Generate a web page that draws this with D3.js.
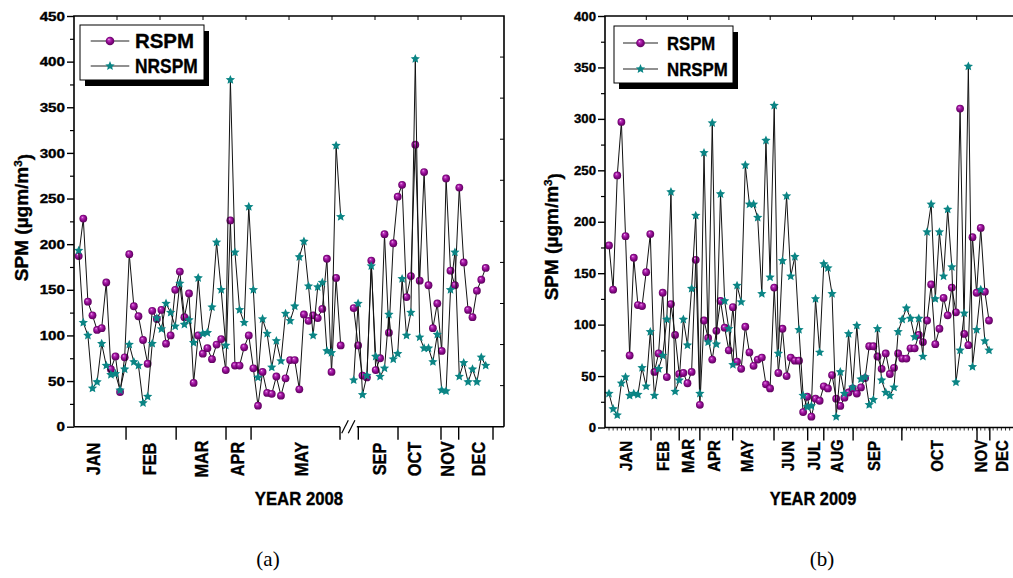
<!DOCTYPE html>
<html><head><meta charset="utf-8">
<script src="https://cdn.jsdelivr.net/npm/d3@7"></script>
<style>
html,body{margin:0;padding:0;background:#fff;}
svg{display:block;}
text{font-family:"Liberation Sans",Arial,sans-serif;font-weight:bold;fill:#000;stroke:#000;stroke-width:0.35px;}
</style></head><body>
<svg id="chart" width="1013" height="578"></svg>
<script>
// ---------------- DATA ----------------
// Panel (a) 2008, Jan–May samples
const rspm2008JanMay = [187,228,137,122,106,108,158,63,77,38,76,189,132,121,95,69,127,118,128,91,100,150,170,120,146,48,100,80,86,74,90,96,62,226,67,67,87,100,64,23,60,37,36,55,34,53,73,73,41,123,116,122,119,129,184,60,163,89];
const nrspm2008JanMay = [193,114,100,42,49,91,67,57,58,40,63,90,71,67,26,33,91,119,107,135,125,110,157,112,117,92,163,102,103,131,202,150,89,380,191,128,114,241,150,54,118,102,65,94,72,124,116,132,186,203,154,100,153,158,83,81,308,230];
// Panel (a) 2008, Sep–Dec samples
const rspm2008SepDec = [130,89,56,54,182,62,75,211,103,201,252,265,142,165,309,160,279,155,108,135,83,272,171,155,262,180,128,120,149,161,174];
const nrspm2008SepDec = [51,135,35,56,176,77,55,64,123,74,80,162,100,125,403,98,86,86,71,101,40,39,150,191,55,70,49,63,49,76,67];
// Panel (b) 2009 samples
const rspm2009 = [177,134,245,297,186,70,165,119,118,151,188,54,72,131,49,120,90,52,53,43,54,163,22,104,87,66,94,123,97,75,117,64,57,98,73,60,66,68,42,38,136,53,96,50,68,65,65,15,30,10.5,28,26,40,38,51,28,21,29,34,38,33,39,48,79,79,69,57,72,52,58,72,67,67,77,77,90,83,104,139,81,96,126,109,136,112,310,91,80,185,131,194,132,104];
const nrspm2009 = [33,18,12,43,49,31,33,32,58,40,93,31,57,70,105,229,35,46,105,80,135,206,33,267,83,296,81,227,123,96,61,138,122,255,217,217,204,130,279,146,313,72,162,225,147,166,95,31,20,21,125,73,159,155,130,10.5,54,33,91,39,99,47,49,22,27,96,46,34,31,39,93,105,116,106,88,106,69,190,217,125,190,147,212,156,44,75,111,351,59,95,134,84,75];

// month labels and their position in sample-index units
const months2008JanMay = ["JAN","FEB","MAR","APR","MAY"];
const monthPos2008JanMay = [3.2,15.5,26.8,34.6,48.5];
const monthBounds2008JanMay = [10.3,21.2,32.05,37.5,56.85];
const months2008SepDec = ["SEP","OCT","NOV","DEC"];
const monthPos2008SepDec = [6.0,13.93,21.4,28.4];
const monthBounds2008SepDec = [1.05,10.07,19.84,23.86,31.66];
const months2009 = ["JAN","FEB","MAR","APR","MAY","JUN","JUL","AUG","SEP","OCT","NOV","DEC"];
const monthPos2009 = [4.16,13.15,19.13,25.42,33.35,43.42,49.56,55.13,64.09,79.36,90.07,95.16];
const monthBounds2009 = [10.17,17.0,22.0,29.95,39.95,48.1,52.0,59.1,70.9,89.1,92.2];

const yTicks2008 = [0,50,100,150,200,250,300,350,400,450];
const yTicks2009 = [0,50,100,150,200,250,300,350,400];
const seriesNames = ["RSPM","NRSPM"];

// ---------------- DRAWING ----------------
const svg = d3.select("#chart");
const defs = svg.append("defs");
const grad = defs.append("radialGradient").attr("id","sphere")
  .attr("cx","50%").attr("cy","50%").attr("r","55%").attr("fx","36%").attr("fy","30%");
grad.selectAll("stop").data([[0,"#f4d4f4"],[0.2,"#c23cc2"],[0.55,"#900a90"],[1,"#540054"]])
  .join("stop").attr("offset",d=>d[0]).attr("stop-color",d=>d[1]);

const TEAL = "#0b8585";
function starD(ro, ri){
  const pts = d3.range(10).map(k=>{
    const a = -Math.PI/2 + k*Math.PI/5, r = k%2 ? ri : ro;
    return [r*Math.cos(a), r*Math.sin(a)];
  });
  return d3.line()(pts) + "Z";
}
const starPath = starD(4.9, 2.3);

function fit(sel, factor){
  sel.each(function(){
    const L = this.getComputedTextLength();
    this.setAttribute("textLength", (L*factor).toFixed(2));
    this.setAttribute("lengthAdjust","spacingAndGlyphs");
  });
  return sel;
}

function drawSeries(g, xs, y, vals, kind){
  const line = d3.line().x((d,i)=>xs(i)).y(d=>y(d));
  g.append("path").attr("d", line(vals)).attr("fill","none")
    .attr("stroke","#111").attr("stroke-width",1).attr("stroke-linejoin","round");
  if(kind==="R"){
    g.append("g").selectAll("circle").data(vals).join("circle")
      .attr("cx",(d,i)=>xs(i)).attr("cy",d=>y(d)).attr("r",3.9)
      .attr("fill","url(#sphere)");
  } else {
    g.append("g").selectAll("path").data(vals).join("path")
      .attr("d",starPath).attr("transform",(d,i)=>`translate(${xs(i)},${y(d)})`)
      .attr("fill",TEAL);
  }
}

function legend(g, x0, y0, w, h, rowY, lineX1, lineX2, textX, fs, widths){
  g.append("rect").attr("x",x0+5).attr("y",y0+6).attr("width",w).attr("height",h).attr("fill","#000");
  g.append("rect").attr("x",x0).attr("y",y0).attr("width",w).attr("height",h)
    .attr("fill","#fff").attr("stroke","#000").attr("stroke-width",1);
  seriesNames.forEach((name,k)=>{
    const yy = rowY[k];
    g.append("line").attr("x1",lineX1).attr("x2",lineX2).attr("y1",yy).attr("y2",yy)
      .attr("stroke","#222").attr("stroke-width",1.2);
    const mx = (lineX1+lineX2)/2;
    if(k===0) g.append("circle").attr("cx",mx).attr("cy",yy).attr("r",4.3).attr("fill","url(#sphere)");
    else g.append("path").attr("d",starPath).attr("transform",`translate(${mx},${yy})`).attr("fill",TEAL);
    g.append("text").attr("x",textX).attr("y",yy).attr("dy","0.36em")
      .attr("font-size",fs).attr("textLength",widths[k]).attr("lengthAdjust","spacingAndGlyphs").text(name);
  });
}

function yTitle(g, cx, cy, fs){
  const t = g.append("text").attr("transform",`translate(${cx},${cy}) rotate(-90)`)
    .attr("text-anchor","middle").attr("dy","0.35em").attr("font-size",fs);
  t.append("tspan").text("SPM (\u00B5gm/m");
  t.append("tspan").attr("dy","-0.45em").attr("font-size",fs*0.62).text("3");
  t.append("tspan").attr("dy","0.45em").text(")");
}

// ======= Panel (a) =======
(function(){
  const L=74, R=504, T=16, B=426.7;
  const g = svg.append("g");
  const y = d3.scaleLinear().domain([0,450]).range([B,T]);
  const x1 = d3.scaleLinear().domain([0,57]).range([78.7,340.7]);
  const x2 = d3.scaleLinear().domain([0,30]).range([353.7,485.7]);

  drawSeries(g, x1, y, rspm2008JanMay, "R");
  drawSeries(g, x2, y, rspm2008SepDec, "R");
  drawSeries(g, x1, y, nrspm2008JanMay, "N");
  drawSeries(g, x2, y, nrspm2008SepDec, "N");

  const ax = g.append("g").attr("stroke","#000").attr("fill","none");
  ax.append("path").attr("d",`M${L},${B}V${T}H${R}V${B}`).attr("stroke-width",1.6);
  ax.append("line").attr("x1",L).attr("x2",x1(56.85)).attr("y1",B).attr("y2",B).attr("stroke-width",1.6);
  ax.append("line").attr("x1",x2(1.05)-1.5).attr("x2",R).attr("y1",B).attr("y2",B).attr("stroke-width",1.6);
  [0,6.6].forEach(o=>{
    ax.append("line").attr("x1",341.7+o).attr("y1",B+6.5).attr("x2",348.3+o).attr("y2",B-6.5).attr("stroke-width",1.2);
  });
  const fx = d3.scaleLinear().domain([0,10]).range([L,R]);
  const fy = d3.scaleLinear().domain([0,10]).range([T,B]);
  d3.range(1,10).forEach(k=>{
    ax.append("line").attr("x1",fx(k)).attr("x2",fx(k)).attr("y1",T).attr("y2",T+4).attr("stroke-width",1);
    ax.append("line").attr("y1",fy(k)).attr("y2",fy(k)).attr("x1",R).attr("x2",R-4).attr("stroke-width",1);
  });
  const yAx = g.append("g").attr("transform",`translate(${L},0)`)
    .call(d3.axisLeft(y).tickValues(yTicks2008).tickSize(7).tickPadding(2));
  yAx.select(".domain").remove();
  yAx.selectAll("line").attr("stroke","#000").attr("stroke-width",1.4);
  yAx.selectAll("text").attr("font-size",13).attr("font-family",null).attr("fill","#000")
    .each(function(){ fit(d3.select(this), 1.17); });
  const yMinor = g.append("g").attr("transform",`translate(${L},0)`)
    .call(d3.axisLeft(y).tickValues(d3.range(25,450,50)).tickSize(4).tickFormat(""));
  yMinor.select(".domain").remove();
  yMinor.selectAll("line").attr("stroke","#000").attr("stroke-width",1.2);
  monthBounds2008JanMay.forEach(v=>{
    ax.append("line").attr("x1",x1(v)).attr("x2",x1(v)).attr("y1",B).attr("y2",B+13).attr("stroke-width",1.4);
  });
  monthBounds2008SepDec.forEach(v=>{
    ax.append("line").attr("x1",x2(v)).attr("x2",x2(v)).attr("y1",B).attr("y2",B+13).attr("stroke-width",1.4);
  });
  const mlab = (xs, names, pos) => names.forEach((m,i)=>{
    fit(g.append("text").attr("transform",`translate(${xs(pos[i])},459) rotate(-90)`)
      .attr("text-anchor","middle").attr("dy","0.35em").attr("font-size",17.5).text(m), 0.93);
  });
  mlab(x1, months2008JanMay, monthPos2008JanMay);
  mlab(x2, months2008SepDec, monthPos2008SepDec);
  fit(g.append("text").attr("x",299).attr("y",505).attr("text-anchor","middle").attr("font-size",18).text("YEAR 2008"),0.93);
  yTitle(g, 21, 217.5, 19);
  legend(g, 80, 25, 124, 55, [41,66], 90.7, 129.3, 135, 20, [59,62.7]);
  svg.append("text").attr("x",268).attr("y",566).attr("text-anchor","middle")
    .style("font-family","'Liberation Serif','Times New Roman',serif").style("font-weight","normal").style("stroke","none")
    .attr("font-size",21).text("(a)");
})();

// ======= Panel (b) =======
(function(){
  const L=605, R=1018, T=16, B=427.5;
  const g = svg.append("g");
  const y = d3.scaleLinear().domain([0,400]).range([B,T]);
  const x = d3.scaleLinear().domain([0,92]).range([609,989]);

  drawSeries(g, x, y, rspm2009, "R");
  drawSeries(g, x, y, nrspm2009, "N");

  const ax = g.append("g").attr("stroke","#000").attr("fill","none");
  ax.append("path").attr("d",`M${R},${B}H${L}V${T}H${R}V${B}`).attr("stroke-width",1.6);
  const fx = d3.scaleLinear().domain([0,10]).range([L,R]);
  d3.range(1,10).forEach(k=>{
    ax.append("line").attr("x1",fx(k)).attr("x2",fx(k)).attr("y1",T).attr("y2",T+4).attr("stroke-width",1);
  });
  d3.range(0,100).forEach(i=>{
    const xx = x(i);
    if(xx>L && xx<R) ax.append("line").attr("x1",xx).attr("x2",xx).attr("y1",B).attr("y2",B+3).attr("stroke-width",0.8);
  });
  monthBounds2009.forEach(v=>{
    ax.append("line").attr("x1",x(v)).attr("x2",x(v)).attr("y1",B).attr("y2",B+13).attr("stroke-width",1.4);
  });
  const yAx = g.append("g").attr("transform",`translate(${L},0)`)
    .call(d3.axisLeft(y).tickValues(yTicks2009).tickSize(7).tickPadding(2));
  yAx.select(".domain").remove();
  yAx.selectAll("line").attr("stroke","#000").attr("stroke-width",1.4);
  yAx.selectAll("text").attr("font-size",12.8).attr("font-family",null).attr("fill","#000")
    .each(function(){ fit(d3.select(this), 1.03); });
  const yMinor = g.append("g").attr("transform",`translate(${L},0)`)
    .call(d3.axisLeft(y).tickValues(d3.range(25,400,50)).tickSize(4).tickFormat(""));
  yMinor.select(".domain").remove();
  yMinor.selectAll("line").attr("stroke","#000").attr("stroke-width",1.2);

  months2009.forEach((m,i)=>{
    fit(g.append("text").attr("transform",`translate(${x(monthPos2009[i])},456) rotate(-90)`)
      .attr("text-anchor","middle").attr("dy","0.35em").attr("font-size",17).text(m), 0.88);
  });
  fit(g.append("text").attr("x",813).attr("y",505).attr("text-anchor","middle").attr("font-size",18).text("YEAR 2009"),0.91);
  yTitle(g, 551, 236.7, 19);
  legend(g, 614, 26, 119, 57, [43,69], 623, 658, 667, 18.6, [48.3,60.7]);
  svg.append("text").attr("x",822).attr("y",566).attr("text-anchor","middle")
    .style("font-family","'Liberation Serif','Times New Roman',serif").style("font-weight","normal").style("stroke","none")
    .attr("font-size",21).text("(b)");
})();
</script>
</body></html>
